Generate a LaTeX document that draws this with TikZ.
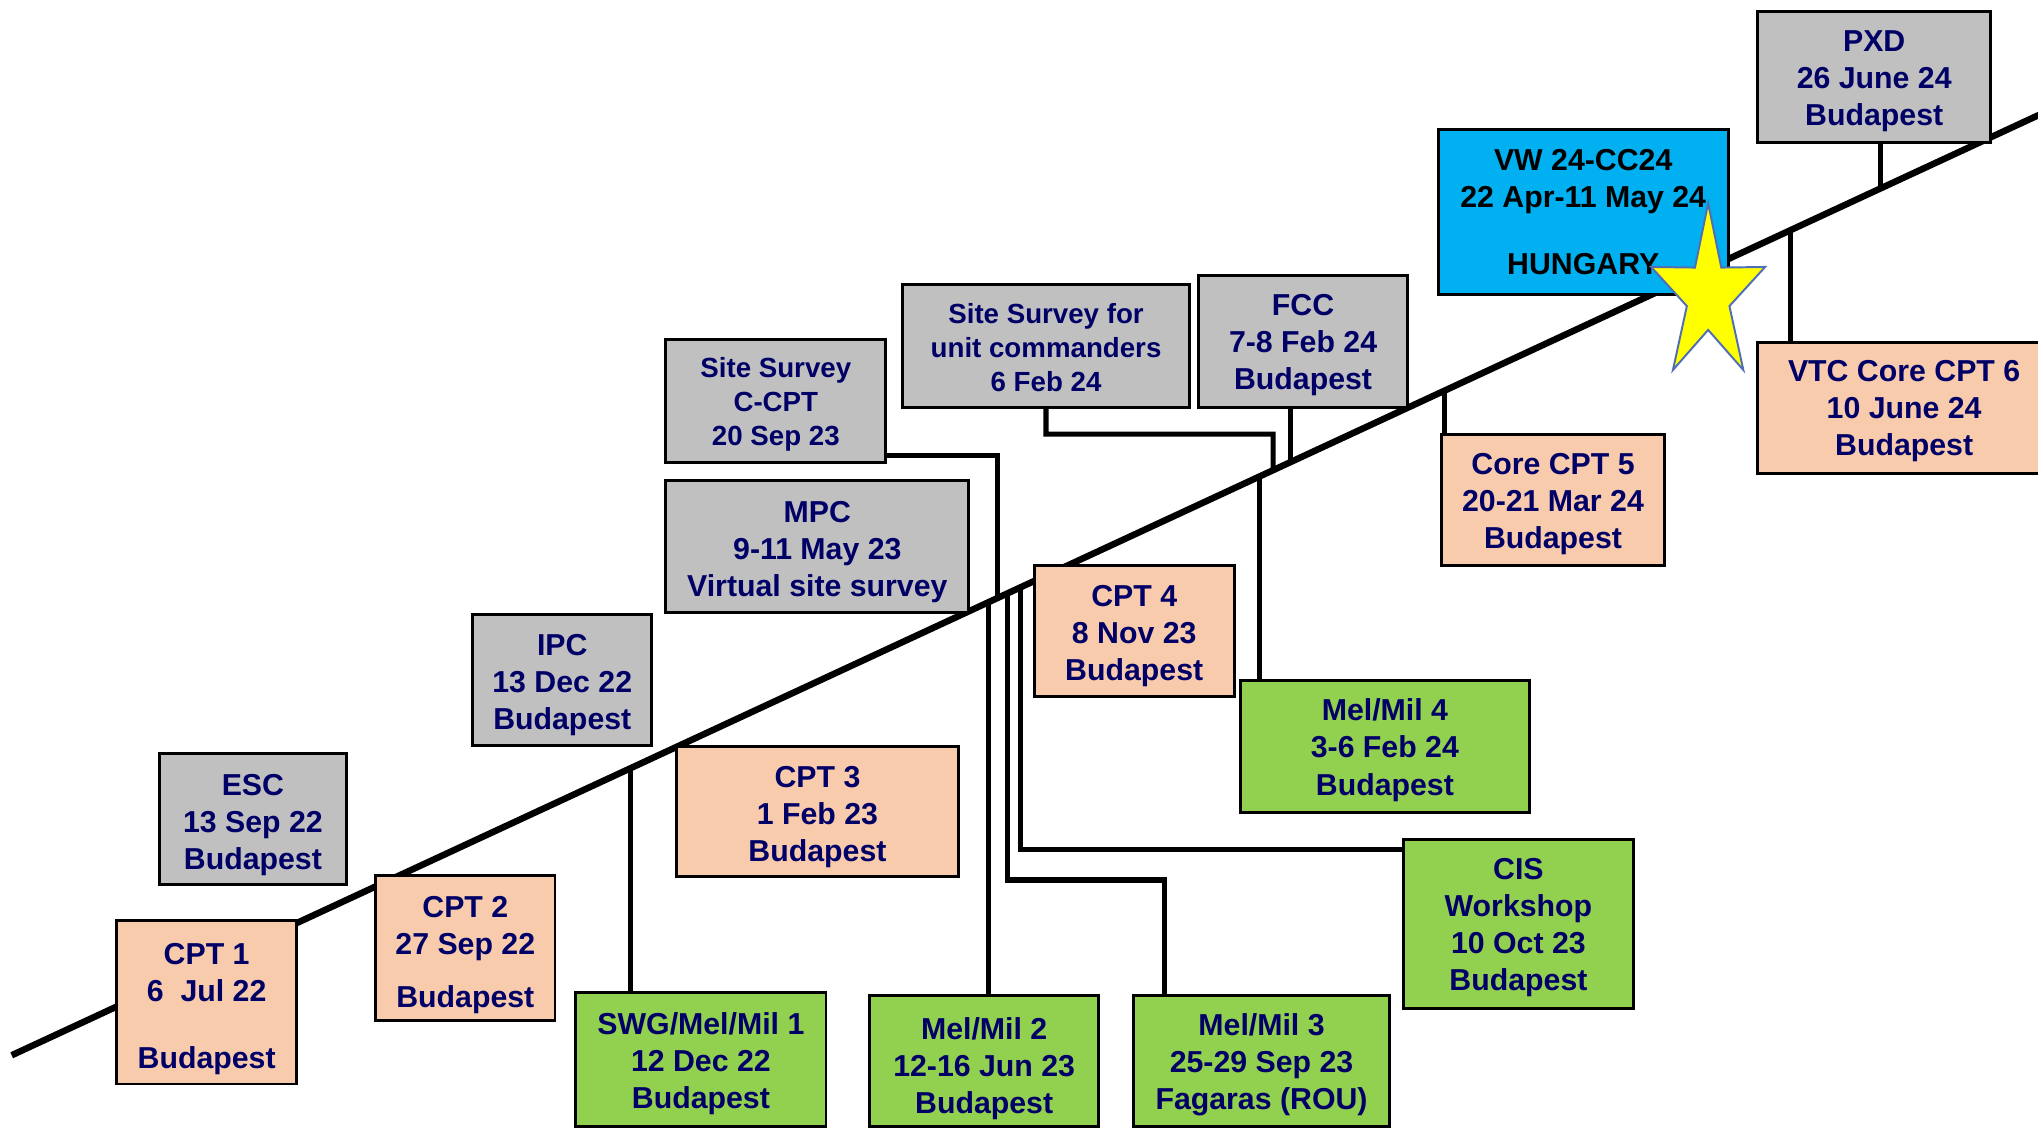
\documentclass[tikz,border=0pt]{standalone}
\usepackage{fontspec}
\setmainfont{Liberation Sans}
\usetikzlibrary{calc}
\definecolor{txtnavy}{HTML}{000066}
\definecolor{boxgray}{HTML}{C0C0C0}
\definecolor{boxpeach}{HTML}{F8CBAD}
\definecolor{boxgreen}{HTML}{92D050}
\definecolor{boxblue}{HTML}{00B0F0}
\definecolor{starfill}{HTML}{FFFF00}
\definecolor{starline}{HTML}{4F6EB5}
\newcommand\tlpoint[2]{\coordinate (#1) at ($(ts)!{(#2-9)/1571}!(te)$);}
\newcommand\btext[2][4pt]{\raisebox{-#1}[\height][\depth]{\begin{tabular}{@{}c@{}}#2\end{tabular}}}
\begin{document}
\begin{tikzpicture}[x=1pt,y=-1pt,
  box/.style={draw=black, line width=2.3pt, inner sep=0pt, text=txtnavy,
    font=\bfseries\fontsize{23.3}{28.5}\selectfont},
  smallbox/.style={box, font=\bfseries\fontsize{21.3}{26}\selectfont},
  graybox/.style={box, fill=boxgray},
  peachbox/.style={box, fill=boxpeach},
  greenbox/.style={box, fill=boxgreen},
  bluebox/.style={box, fill=boxblue, text=black},
  timeline/.style={line width=5pt},
  conn/.style={line width=4pt}]
\useasboundingbox (0,0) rectangle (1568,867.9);
\begin{scope}
\clip (0,0) rectangle (1568,867.9);

% timeline
\coordinate (ts) at (9,811.9);
\coordinate (te) at (1580,83.2);
\draw[timeline] (ts) -- (te);

% points on the timeline
\tlpoint{tswg}{484.9}
\tlpoint{tmm2}{760.8}
\tlpoint{tccpt}{767.5}
\tlpoint{tmm3}{775}
\tlpoint{tcis}{785}
\tlpoint{tmm4}{969.2}
\tlpoint{tucmd}{979.5}
\tlpoint{tfcc}{992.8}
\tlpoint{tcpt5}{1111.5}
\tlpoint{tvtc}{1377.4}
\tlpoint{tpxd}{1446.7}

% boxes
\node[peachbox, minimum width=138.4pt, minimum height=125.5pt] (cpt1) at (159,771.25)
  {\btext[5pt]{CPT 1\\6~ Jul 22\\[23pt]Budapest}};
\node[graybox, minimum width=143.8pt, minimum height=100.4pt] (esc) at (194.6,630)
  {\btext[5pt]{ESC\\13 Sep 22\\Budapest}};
\node[peachbox, minimum width=138pt, minimum height=111.8pt] (cpt2) at (358,729.5)
  {\btext[5.5pt]{CPT 2\\27 Sep 22\\[12pt]Budapest}};
\node[graybox, minimum width=137.8pt, minimum height=100.6pt] (ipc) at (432.6,523.3)
  {\btext{IPC\\13 Dec 22\\Budapest}};
\node[greenbox, minimum width=192.5pt, minimum height=103.4pt] (swg) at (539.25,815)
  {\btext{SWG/Mel/Mil 1\\12 Dec 22\\Budapest}};
\node[peachbox, minimum width=217.5pt, minimum height=100.4pt] (cpt3) at (628.95,624.2)
  {\btext[4.5pt]{CPT 3\\1 Feb 23\\Budapest}};
\node[graybox, smallbox, minimum width=169.2pt, minimum height=94.9pt] (ccpt) at (596.9,308.45)
  {\btext[3pt]{Site Survey\\C-CPT\\20 Sep 23}};
\node[graybox, minimum width=233.1pt, minimum height=101.6pt] (mpc) at (628.85,420.5)
  {\btext{MPC\\9-11 May 23\\Virtual site survey}};
\node[greenbox, minimum width=176.4pt, minimum height=100.8pt] (mm2) at (757.2,816.3)
  {\btext[6pt]{Mel/Mil 2\\12-16 Jun 23\\Budapest}};
\node[peachbox, minimum width=153.7pt, minimum height=100.8pt] (cpt4) at (872.65,485.5)
  {\btext{CPT 4\\8 Nov 23\\Budapest}};
\node[graybox, smallbox, minimum width=221.2pt, minimum height=94.4pt] (ucmd) at (804.8,266.4)
  {\btext[3.5pt]{Site Survey for\\unit commanders\\6 Feb 24}};
\node[graybox, minimum width=160.5pt, minimum height=101.3pt] (fcc) at (1002.55,262.95)
  {\btext[2.5pt]{FCC\\7-8 Feb 24\\Budapest}};
\node[greenbox, minimum width=196.8pt, minimum height=100.8pt] (mm3) at (970.6,816.3)
  {\btext[3.5pt]{Mel/Mil 3\\25-29 Sep 23\\Fagaras (ROU)}};
\node[greenbox, minimum width=176.5pt, minimum height=130.2pt] (cis) at (1168.25,711.1)
  {\btext[2.5pt]{CIS\\Workshop\\10 Oct 23\\Budapest}};
\node[greenbox, minimum width=221.8pt, minimum height=101.3pt] (mm4) at (1065.5,574.45)
  {\btext[3pt]{Mel/Mil 4\\3-6 Feb 24\\Budapest}};
\node[peachbox, minimum width=171.1pt, minimum height=101.4pt] (cpt5) at (1194.85,384.7)
  {\btext[3pt]{Core CPT 5\\20-21 Mar 24\\Budapest}};
\node[bluebox, minimum width=222.8pt, minimum height=126.4pt] (vw) at (1218.1,163.2)
  {\btext[2.5pt]{VW 24-CC24\\22 Apr-11 May 24\\[23pt]HUNGARY}};
\node[graybox, minimum width=179.1pt, minimum height=101.3pt] (pxd) at (1441.95,59.15)
  {\btext[3pt]{PXD\\26 June 24\\Budapest}};
\node[peachbox, minimum width=225.2pt, minimum height=100.8pt] (vtc) at (1465,313.7)
  {\btext[2.5pt]{VTC Core CPT 6\\10 June 24\\Budapest}};

% connectors
\draw[conn] (tswg) -- (tswg |- swg.north);
\draw[conn] (ccpt.south east) ++(0,-6.7) -| (tccpt);
\draw[conn] (tmm2) -- (tmm2 |- mm2.north);
\coordinate (mm3c) at (896,677);
\draw[conn] (tmm3) |- (mm3c) -- (mm3c |- mm3.north);
\draw[conn] (tcis) |- ($(cis.north west)+(0,8.5)$);
\draw[conn] (tmm4) -- (tmm4 |- mm4.north);
\coordinate (ucmdc) at (979.5,334);
\draw[conn] (ucmd.south) |- (ucmdc) -- (tucmd);
\draw[conn] (tfcc |- fcc.south) -- (tfcc);
\draw[conn] (tcpt5) -- (tcpt5 |- cpt5.north);
\draw[conn] (tvtc) -- (tvtc |- vtc.north);
\draw[conn] (tpxd |- pxd.south) -- (tpxd);

% star
\begin{scope}[shift={(1314.2,227.3)}, xscale=0.65]
\draw[fill=starfill, draw=starline, line width=1.5pt, line join=miter]
  (-90:70.9) -- (-54:26.5) -- (-18:70.9) -- (18:26.5) -- (54:70.9) -- (90:26.5)
  -- (126:70.9) -- (162:26.5) -- (198:70.9) -- (234:26.5) -- cycle;
\end{scope}
\end{scope}
\end{tikzpicture}
\end{document}
